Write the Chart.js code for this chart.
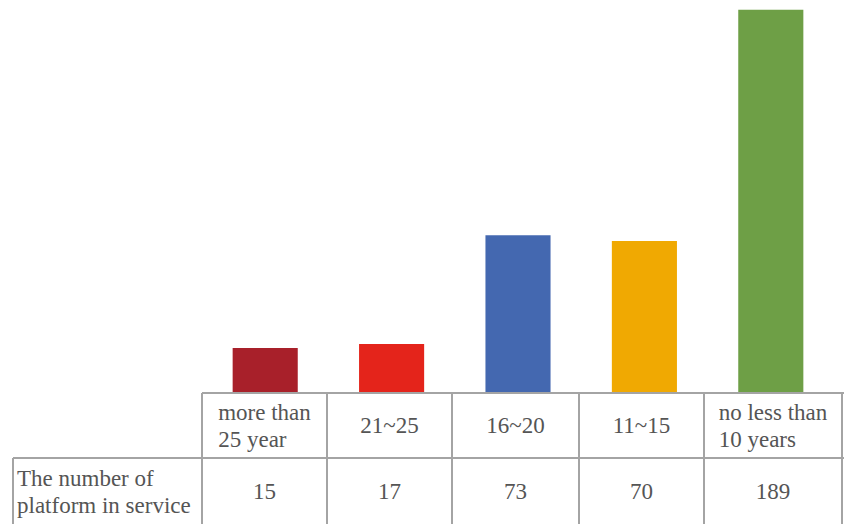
<!DOCTYPE html>
<html>
<head>
<meta charset="utf-8">
<script src="https://cdn.jsdelivr.net/npm/chart.js@4"></script>
<style>
  html, body { margin: 0; padding: 0; background: #fff; }
  #wrap { position: relative; width: 846px; height: 524px; overflow: hidden; font-family: "Liberation Serif", "Times New Roman", "DejaVu Serif", serif; color: #555; }
  #cv { position: absolute; left: 202px; top: 0; }
  .cell { position: absolute; box-sizing: border-box; display: flex; align-items: center; justify-content: center; font-size: 23px; line-height: 27px; }
  .cell span { display: inline-block; text-align: left; white-space: nowrap; }
  .line { position: absolute; background: #a4a4a4; }
</style>
</head>
<body>
<div id="wrap">
  <canvas id="cv" width="632" height="393"></canvas>
</div>
<script>
// categories et valeurs
const categories = ['more than\n25 year', '21~25', '16~20', '11~15', 'no less than\n10 years'];
const platforms = [15, 17, 73, 70, 189];
const barColors = ['#a8202a', '#e4241b', '#4468b0', '#f0a902', '#6e9f46'];
const rowLabel = 'The number of\nplatform in service';

// axe des valeurs (l'original ne part pas de zéro)
const yMin = -8.2;
const yMax = 194;

// bords des colonnes du tableau
const colEdges = [202, 327, 452, 579, 704, 842];
const tableTop = 393, rowSplit = 458, tableBottom = 525, labelLeft = 13;

new Chart(document.getElementById('cv'), {
    type: 'bar',
    data: {
        labels: categories,
        datasets: [{
            data: platforms,
            backgroundColor: barColors,
            base: yMin,
            barPercentage: 0.515,
            categoryPercentage: 1
        }]
    },
    options: {
        responsive: false,
        animation: false,
        layout: { padding: 0 },
        plugins: { legend: { display: false }, tooltip: { enabled: false } },
        scales: {
            x: { display: false },
            y: { display: false, min: yMin, max: yMax }
        }
    }
});

// tableau de données sous le graphique
const wrap = document.getElementById('wrap');
function addCell(x, y, w, h, text, left) {
    const d = document.createElement('div');
    d.className = 'cell';
    d.style.left = x + 'px'; d.style.top = y + 'px';
    d.style.width = w + 'px'; d.style.height = h + 'px';
    if (left) { d.style.justifyContent = 'flex-start'; d.style.paddingLeft = '4px'; }
    const s = document.createElement('span');
    s.innerHTML = text.replace('\n', '<br>');
    d.appendChild(s);
    wrap.appendChild(d);
}
function addLine(x, y, w, h) {
    const d = document.createElement('div');
    d.className = 'line';
    d.style.left = x + 'px'; d.style.top = y + 'px';
    d.style.width = w + 'px'; d.style.height = h + 'px';
    wrap.appendChild(d);
}

categories.forEach((c, i) => {
    const x0 = colEdges[i], x1 = colEdges[i + 1];
    addCell(x0, tableTop, x1 - x0, rowSplit - tableTop, c);
    addCell(x0, rowSplit, x1 - x0, tableBottom - rowSplit, String(platforms[i]));
});
addCell(labelLeft, rowSplit, colEdges[0] - labelLeft, tableBottom - rowSplit, rowLabel, true);

// lignes
addLine(colEdges[0], tableTop - 1, colEdges[5] - colEdges[0] + 2, 2);
addLine(labelLeft, rowSplit - 1, colEdges[5] - labelLeft + 2, 2);
colEdges.forEach(x => addLine(x - 1, tableTop, 2, tableBottom - tableTop));
addLine(labelLeft - 1, rowSplit, 2, tableBottom - rowSplit);
</script>
</body>
</html>
